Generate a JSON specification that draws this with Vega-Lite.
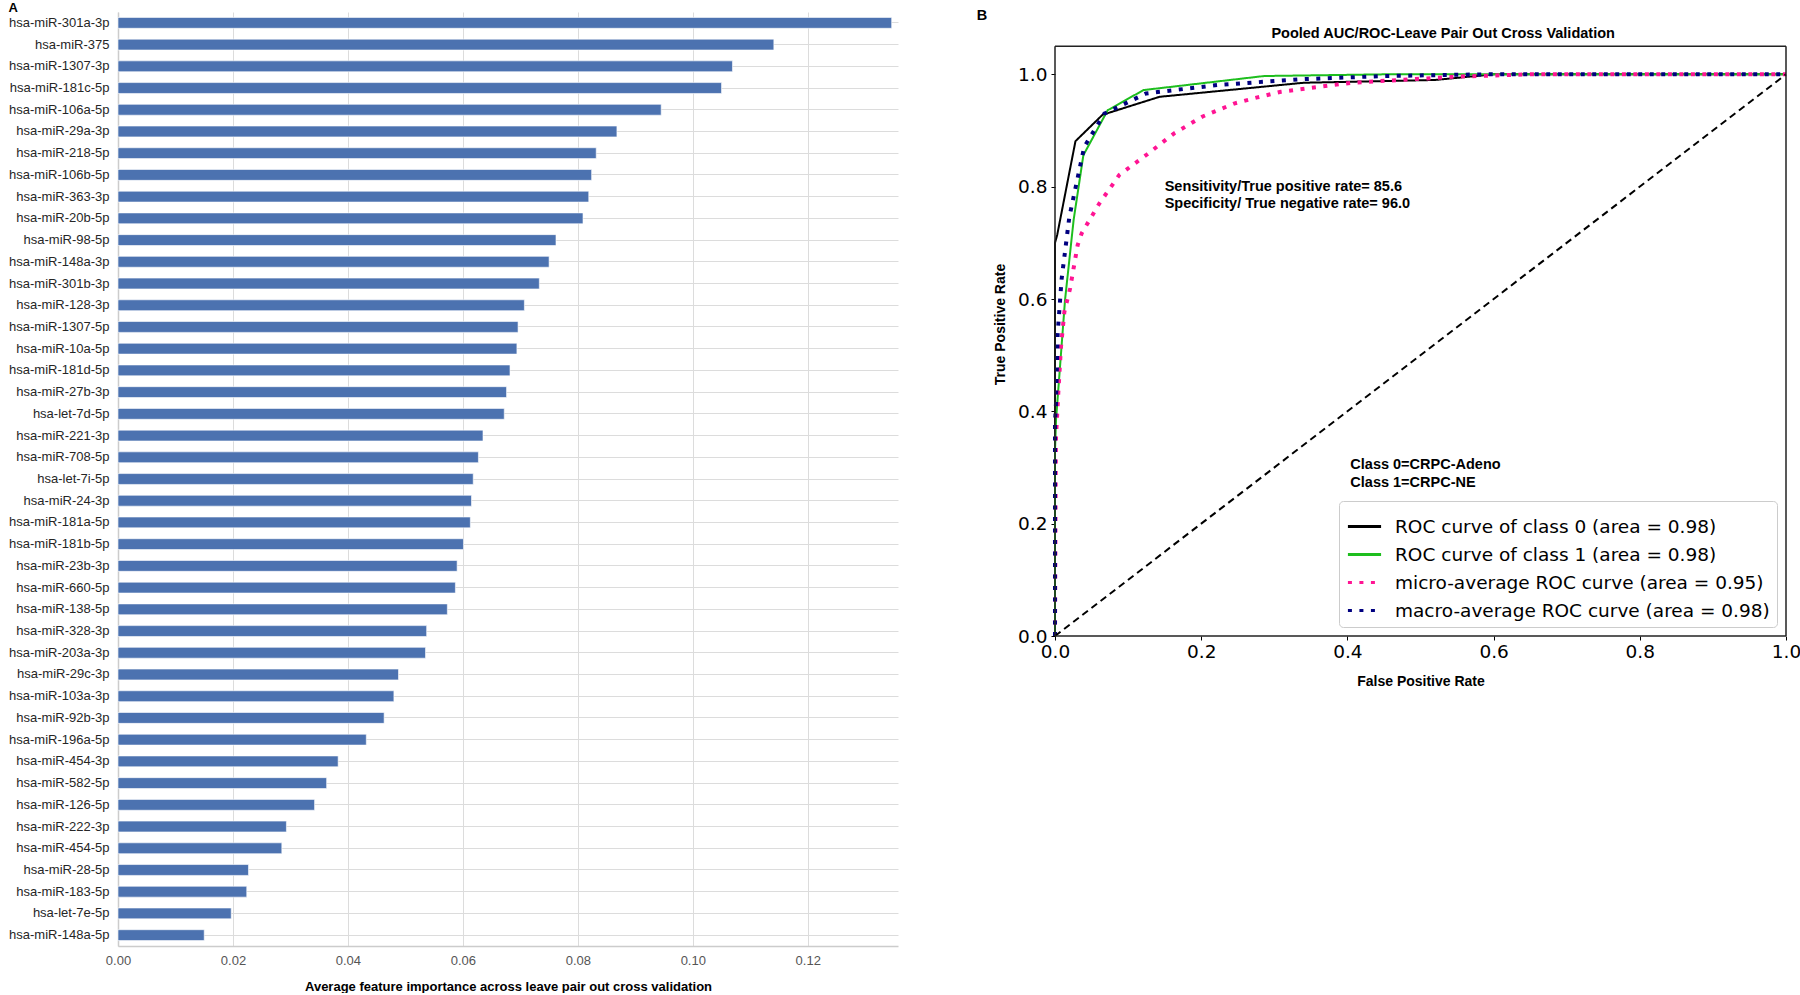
{
  "$schema": "https://vega.github.io/schema/vega-lite/v6.json",
  "padding": {"left": 8, "top": 2, "right": 0, "bottom": 0},
  "background": "white",
  "title": {"text": "A", "anchor": "start", "frame": "bounds", "font": "Liberation Sans", "fontSize": 13, "fontWeight": "bold", "color": "#000000", "offset": -6.7},
  "spacing": 78,
  "resolve": {
    "scale": {"color": "independent", "strokeDash": "independent"},
    "legend": {"color": "independent", "strokeDash": "independent"}
  },
  "datasets": {
    "bars": [
      {"mirna": "hsa-miR-301a-3p", "imp": 0.1346},
      {"mirna": "hsa-miR-375", "imp": 0.1141},
      {"mirna": "hsa-miR-1307-3p", "imp": 0.1069},
      {"mirna": "hsa-miR-181c-5p", "imp": 0.1050},
      {"mirna": "hsa-miR-106a-5p", "imp": 0.0945},
      {"mirna": "hsa-miR-29a-3p", "imp": 0.0868},
      {"mirna": "hsa-miR-218-5p", "imp": 0.0832},
      {"mirna": "hsa-miR-106b-5p", "imp": 0.0824},
      {"mirna": "hsa-miR-363-3p", "imp": 0.0819},
      {"mirna": "hsa-miR-20b-5p", "imp": 0.0809},
      {"mirna": "hsa-miR-98-5p", "imp": 0.0762},
      {"mirna": "hsa-miR-148a-3p", "imp": 0.0750},
      {"mirna": "hsa-miR-301b-3p", "imp": 0.0733},
      {"mirna": "hsa-miR-128-3p", "imp": 0.0707},
      {"mirna": "hsa-miR-1307-5p", "imp": 0.0696},
      {"mirna": "hsa-miR-10a-5p", "imp": 0.0694},
      {"mirna": "hsa-miR-181d-5p", "imp": 0.0682},
      {"mirna": "hsa-miR-27b-3p", "imp": 0.0676},
      {"mirna": "hsa-let-7d-5p", "imp": 0.0672},
      {"mirna": "hsa-miR-221-3p", "imp": 0.0635},
      {"mirna": "hsa-miR-708-5p", "imp": 0.0627},
      {"mirna": "hsa-let-7i-5p", "imp": 0.0618},
      {"mirna": "hsa-miR-24-3p", "imp": 0.0615},
      {"mirna": "hsa-miR-181a-5p", "imp": 0.0613},
      {"mirna": "hsa-miR-181b-5p", "imp": 0.0601},
      {"mirna": "hsa-miR-23b-3p", "imp": 0.0590},
      {"mirna": "hsa-miR-660-5p", "imp": 0.0587},
      {"mirna": "hsa-miR-138-5p", "imp": 0.0573},
      {"mirna": "hsa-miR-328-3p", "imp": 0.0537},
      {"mirna": "hsa-miR-203a-3p", "imp": 0.0535},
      {"mirna": "hsa-miR-29c-3p", "imp": 0.0488},
      {"mirna": "hsa-miR-103a-3p", "imp": 0.0480},
      {"mirna": "hsa-miR-92b-3p", "imp": 0.0463},
      {"mirna": "hsa-miR-196a-5p", "imp": 0.0432},
      {"mirna": "hsa-miR-454-3p", "imp": 0.0383},
      {"mirna": "hsa-miR-582-5p", "imp": 0.0363},
      {"mirna": "hsa-miR-126-5p", "imp": 0.0342},
      {"mirna": "hsa-miR-222-3p", "imp": 0.0293},
      {"mirna": "hsa-miR-454-5p", "imp": 0.0285},
      {"mirna": "hsa-miR-28-5p", "imp": 0.0227},
      {"mirna": "hsa-miR-183-5p", "imp": 0.0224},
      {"mirna": "hsa-let-7e-5p", "imp": 0.0197},
      {"mirna": "hsa-miR-148a-5p", "imp": 0.0150}
    ],
    "roc": [
      {"s": "ROC curve of class 0 (area = 0.98)", "k": "solid", "o": 0, "fpr": 0.0, "tpr": 0.0},
      {"s": "ROC curve of class 0 (area = 0.98)", "k": "solid", "o": 1, "fpr": 0.0, "tpr": 0.70},
      {"s": "ROC curve of class 0 (area = 0.98)", "k": "solid", "o": 2, "fpr": 0.003, "tpr": 0.714},
      {"s": "ROC curve of class 0 (area = 0.98)", "k": "solid", "o": 3, "fpr": 0.028, "tpr": 0.881},
      {"s": "ROC curve of class 0 (area = 0.98)", "k": "solid", "o": 4, "fpr": 0.065, "tpr": 0.928},
      {"s": "ROC curve of class 0 (area = 0.98)", "k": "solid", "o": 5, "fpr": 0.143, "tpr": 0.960},
      {"s": "ROC curve of class 0 (area = 0.98)", "k": "solid", "o": 6, "fpr": 0.34, "tpr": 0.985},
      {"s": "ROC curve of class 0 (area = 0.98)", "k": "solid", "o": 7, "fpr": 0.52, "tpr": 0.990},
      {"s": "ROC curve of class 0 (area = 0.98)", "k": "solid", "o": 8, "fpr": 0.60, "tpr": 1.0},
      {"s": "ROC curve of class 0 (area = 0.98)", "k": "solid", "o": 9, "fpr": 1.0, "tpr": 1.0},
      {"s": "ROC curve of class 1 (area = 0.98)", "k": "solid", "o": 0, "fpr": 0.0, "tpr": 0.0},
      {"s": "ROC curve of class 1 (area = 0.98)", "k": "solid", "o": 1, "fpr": 0.0, "tpr": 0.33},
      {"s": "ROC curve of class 1 (area = 0.98)", "k": "solid", "o": 2, "fpr": 0.0014, "tpr": 0.385},
      {"s": "ROC curve of class 1 (area = 0.98)", "k": "solid", "o": 3, "fpr": 0.0137, "tpr": 0.598},
      {"s": "ROC curve of class 1 (area = 0.98)", "k": "solid", "o": 4, "fpr": 0.0255, "tpr": 0.741},
      {"s": "ROC curve of class 1 (area = 0.98)", "k": "solid", "o": 5, "fpr": 0.0388, "tpr": 0.856},
      {"s": "ROC curve of class 1 (area = 0.98)", "k": "solid", "o": 6, "fpr": 0.072, "tpr": 0.936},
      {"s": "ROC curve of class 1 (area = 0.98)", "k": "solid", "o": 7, "fpr": 0.121, "tpr": 0.972},
      {"s": "ROC curve of class 1 (area = 0.98)", "k": "solid", "o": 8, "fpr": 0.286, "tpr": 0.997},
      {"s": "ROC curve of class 1 (area = 0.98)", "k": "solid", "o": 9, "fpr": 0.45, "tpr": 1.0},
      {"s": "ROC curve of class 1 (area = 0.98)", "k": "solid", "o": 10, "fpr": 1.0, "tpr": 1.0},
      {"s": "micro-average ROC curve (area = 0.95)", "k": "dotted", "o": 0, "fpr": 0.0, "tpr": 0.0},
      {"s": "micro-average ROC curve (area = 0.95)", "k": "dotted", "o": 1, "fpr": 0.001, "tpr": 0.30},
      {"s": "micro-average ROC curve (area = 0.95)", "k": "dotted", "o": 2, "fpr": 0.0014, "tpr": 0.355},
      {"s": "micro-average ROC curve (area = 0.95)", "k": "dotted", "o": 3, "fpr": 0.0045, "tpr": 0.433},
      {"s": "micro-average ROC curve (area = 0.95)", "k": "dotted", "o": 4, "fpr": 0.0082, "tpr": 0.515},
      {"s": "micro-average ROC curve (area = 0.95)", "k": "dotted", "o": 5, "fpr": 0.0128, "tpr": 0.577},
      {"s": "micro-average ROC curve (area = 0.95)", "k": "dotted", "o": 6, "fpr": 0.0205, "tpr": 0.618},
      {"s": "micro-average ROC curve (area = 0.95)", "k": "dotted", "o": 7, "fpr": 0.031, "tpr": 0.696},
      {"s": "micro-average ROC curve (area = 0.95)", "k": "dotted", "o": 8, "fpr": 0.0365, "tpr": 0.717},
      {"s": "micro-average ROC curve (area = 0.95)", "k": "dotted", "o": 9, "fpr": 0.0606, "tpr": 0.770},
      {"s": "micro-average ROC curve (area = 0.95)", "k": "dotted", "o": 10, "fpr": 0.088, "tpr": 0.821},
      {"s": "micro-average ROC curve (area = 0.95)", "k": "dotted", "o": 11, "fpr": 0.1245, "tpr": 0.856},
      {"s": "micro-average ROC curve (area = 0.95)", "k": "dotted", "o": 12, "fpr": 0.163, "tpr": 0.895},
      {"s": "micro-average ROC curve (area = 0.95)", "k": "dotted", "o": 13, "fpr": 0.202, "tpr": 0.925},
      {"s": "micro-average ROC curve (area = 0.95)", "k": "dotted", "o": 14, "fpr": 0.245, "tpr": 0.948},
      {"s": "micro-average ROC curve (area = 0.95)", "k": "dotted", "o": 15, "fpr": 0.277, "tpr": 0.959},
      {"s": "micro-average ROC curve (area = 0.95)", "k": "dotted", "o": 16, "fpr": 0.309, "tpr": 0.969},
      {"s": "micro-average ROC curve (area = 0.95)", "k": "dotted", "o": 17, "fpr": 0.405, "tpr": 0.985},
      {"s": "micro-average ROC curve (area = 0.95)", "k": "dotted", "o": 18, "fpr": 0.551, "tpr": 0.996},
      {"s": "micro-average ROC curve (area = 0.95)", "k": "dotted", "o": 19, "fpr": 0.65, "tpr": 1.0},
      {"s": "micro-average ROC curve (area = 0.95)", "k": "dotted", "o": 20, "fpr": 1.0, "tpr": 1.0},
      {"s": "macro-average ROC curve (area = 0.98)", "k": "dotted", "o": 0, "fpr": 0.0, "tpr": 0.0},
      {"s": "macro-average ROC curve (area = 0.98)", "k": "dotted", "o": 1, "fpr": 0.0, "tpr": 0.38},
      {"s": "macro-average ROC curve (area = 0.98)", "k": "dotted", "o": 2, "fpr": 0.0014, "tpr": 0.415},
      {"s": "macro-average ROC curve (area = 0.98)", "k": "dotted", "o": 3, "fpr": 0.0037, "tpr": 0.539},
      {"s": "macro-average ROC curve (area = 0.98)", "k": "dotted", "o": 4, "fpr": 0.009, "tpr": 0.635},
      {"s": "macro-average ROC curve (area = 0.98)", "k": "dotted", "o": 5, "fpr": 0.0196, "tpr": 0.746},
      {"s": "macro-average ROC curve (area = 0.98)", "k": "dotted", "o": 6, "fpr": 0.040, "tpr": 0.871},
      {"s": "macro-average ROC curve (area = 0.98)", "k": "dotted", "o": 7, "fpr": 0.0675, "tpr": 0.930},
      {"s": "macro-average ROC curve (area = 0.98)", "k": "dotted", "o": 8, "fpr": 0.1245, "tpr": 0.966},
      {"s": "macro-average ROC curve (area = 0.98)", "k": "dotted", "o": 9, "fpr": 0.2225, "tpr": 0.981},
      {"s": "macro-average ROC curve (area = 0.98)", "k": "dotted", "o": 10, "fpr": 0.332, "tpr": 0.991},
      {"s": "macro-average ROC curve (area = 0.98)", "k": "dotted", "o": 11, "fpr": 0.45, "tpr": 0.997},
      {"s": "macro-average ROC curve (area = 0.98)", "k": "dotted", "o": 12, "fpr": 0.59, "tpr": 1.0},
      {"s": "macro-average ROC curve (area = 0.98)", "k": "dotted", "o": 13, "fpr": 1.0, "tpr": 1.0}
    ],
    "diag": [{"fpr": 0, "tpr": 0}, {"fpr": 1, "tpr": 1}],
    "frame": [
      {"fpr": 0, "tpr": 1.05, "fpr2": 1, "tpr2": 1.05},
      {"fpr": 0, "tpr": 0, "fpr2": 1, "tpr2": 0},
      {"fpr": 0, "tpr": 0, "fpr2": 0, "tpr2": 1.05},
      {"fpr": 1, "tpr": 0, "fpr2": 1, "tpr2": 1.05}
    ],
    "notes": [
      {"fpr": 0.15, "tpr": 0.80, "label": "Sensitivity/True positive rate= 85.6"},
      {"fpr": 0.15, "tpr": 0.769, "label": "Specificity/ True negative rate= 96.0"},
      {"fpr": 0.404, "tpr": 0.304, "label": "Class 0=CRPC-Adeno"},
      {"fpr": 0.404, "tpr": 0.273, "label": "Class 1=CRPC-NE"},
      {"fpr": 0.296, "tpr": 1.071, "label": "Pooled AUC/ROC-Leave Pair Out Cross Validation"},
      {"fpr": -0.107, "tpr": 1.103, "label": "B"}
    ]
  },
  "hconcat": [
    {
      "width": 780,
      "height": 934,
      "view": {"stroke": null},
      "data": {"name": "bars"},
      "mark": {"type": "bar", "color": "#4c72b0", "stroke": "#ffffff", "strokeWidth": 0.6},
      "encoding": {
        "y": {
          "field": "mirna", "type": "nominal", "sort": null,
          "scale": {"paddingInner": 0.5, "paddingOuter": 0.25},
          "axis": {"title": null, "grid": true, "gridColor": "#dcdcdc", "gridWidth": 1, "ticks": false, "bandPosition": 0.5,
                   "labelPadding": 9, "labelFont": "Liberation Sans", "labelFontSize": 13, "labelColor": "#262626",
                   "domainColor": "#cccccc", "domainWidth": 1.5}
        },
        "x": {
          "field": "imp", "type": "quantitative",
          "scale": {"domain": [0, 0.1357], "nice": false},
          "axis": {"title": "Average feature importance across leave pair out cross validation",
                   "values": [0, 0.02, 0.04, 0.06, 0.08, 0.1, 0.12], "format": ".2f", "labelFlush": false,
                   "grid": true, "gridColor": "#dcdcdc", "gridWidth": 1, "ticks": false,
                   "labelPadding": 8, "labelFont": "Liberation Sans", "labelFontSize": 13, "labelColor": "#555555",
                   "domainColor": "#cccccc", "domainWidth": 1.5,
                   "titleFont": "Liberation Sans", "titleFontSize": 13, "titleFontWeight": "bold", "titleColor": "#000000", "titlePadding": 13}
        }
      }
    },
    {
      "width": 731,
      "height": 624,
      "view": {"stroke": null},
      "encoding": {
        "x": {"field": "fpr", "type": "quantitative", "scale": {"domain": [0, 1], "nice": false},
              "axis": {"title": "False Positive Rate", "values": [0, 0.2, 0.4, 0.6, 0.8, 1.0], "format": ".1f", "labelFlush": false, "grid": false,
                       "domain": false, "ticks": true, "tickSize": 4, "tickColor": "#000000", "labelPadding": 2,
                       "labelFont": "DejaVu Sans", "labelFontSize": 18.5, "labelColor": "#000000",
                       "titleFont": "Liberation Sans", "titleFontSize": 14, "titleFontWeight": "bold", "titleColor": "#000000", "titlePadding": 14}},
        "y": {"field": "tpr", "type": "quantitative", "scale": {"domain": [0, 1.111], "nice": false},
              "axis": {"title": "True Positive Rate", "values": [0, 0.2, 0.4, 0.6, 0.8, 1.0], "format": ".1f", "labelFlush": false, "grid": false,
                       "domain": false, "ticks": true, "tickSize": 4, "tickColor": "#000000", "labelPadding": 4,
                       "labelFont": "DejaVu Sans", "labelFontSize": 18.5, "labelColor": "#000000",
                       "titleFont": "Liberation Sans", "titleFontSize": 14, "titleFontWeight": "bold", "titleColor": "#000000", "titlePadding": 10}}
      },
      "layer": [
        {
          "data": {"name": "roc"},
          "transform": [{"filter": "datum.k === 'solid'"}],
          "mark": {"type": "line", "strokeWidth": 2},
          "encoding": {
            "order": {"field": "o", "type": "quantitative"},
            "color": {"field": "s", "type": "nominal",
                      "scale": {"domain": ["ROC curve of class 0 (area = 0.98)", "ROC curve of class 1 (area = 0.98)", "micro-average ROC curve (area = 0.95)", "macro-average ROC curve (area = 0.98)"],
                                "range": ["#000000", "#1ebe1e", "#ff1493", "#000080"]},
                      "legend": {"title": null, "orient": "bottom-right", "offset": 9}},
            "strokeDash": {"field": "s", "type": "nominal",
                      "scale": {"domain": ["ROC curve of class 0 (area = 0.98)", "ROC curve of class 1 (area = 0.98)", "micro-average ROC curve (area = 0.95)", "macro-average ROC curve (area = 0.98)"],
                                "range": [[1, 0], [1, 0], [4, 7.5], [4, 7.5]]},
                      "legend": {"title": null, "orient": "bottom-right", "offset": 9}}
          }
        },
        {
          "data": {"name": "roc"},
          "transform": [{"filter": "datum.k === 'dotted'"}],
          "mark": {"type": "line", "strokeWidth": 4, "strokeCap": "butt"},
          "encoding": {
            "order": {"field": "o", "type": "quantitative"},
            "color": {"field": "s", "type": "nominal"},
            "strokeDash": {"field": "s", "type": "nominal"}
          }
        },
        {
          "data": {"name": "diag"},
          "mark": {"type": "line", "color": "#000000", "strokeWidth": 2, "strokeDash": [7, 4.5]},
          "encoding": {}
        },
        {
          "data": {"name": "frame"},
          "mark": {"type": "rule", "color": "#222222", "strokeWidth": 1.5},
          "encoding": {
            "x2": {"field": "fpr2"},
            "y2": {"field": "tpr2"}
          }
        },
        {
          "data": {"name": "notes"},
          "mark": {"type": "text", "align": "left", "baseline": "middle", "font": "Liberation Sans", "fontSize": 14.5, "fontWeight": "bold", "color": "#000000"},
          "encoding": {
            "text": {"field": "label", "type": "nominal"}
          }
        }
      ]
    }
  ],
  "config": {
    "legend": {
      "fillColor": "#ffffff", "strokeColor": "#cccccc", "cornerRadius": 4,
      "padding": 7, "labelFont": "DejaVu Sans", "labelFontSize": 18.5, "labelColor": "#000000", "labelLimit": 0,
      "symbolType": "stroke", "symbolSize": 1100, "symbolStrokeWidth": 3, "rowPadding": -3, "labelOffset": 12
    }
  }
}
